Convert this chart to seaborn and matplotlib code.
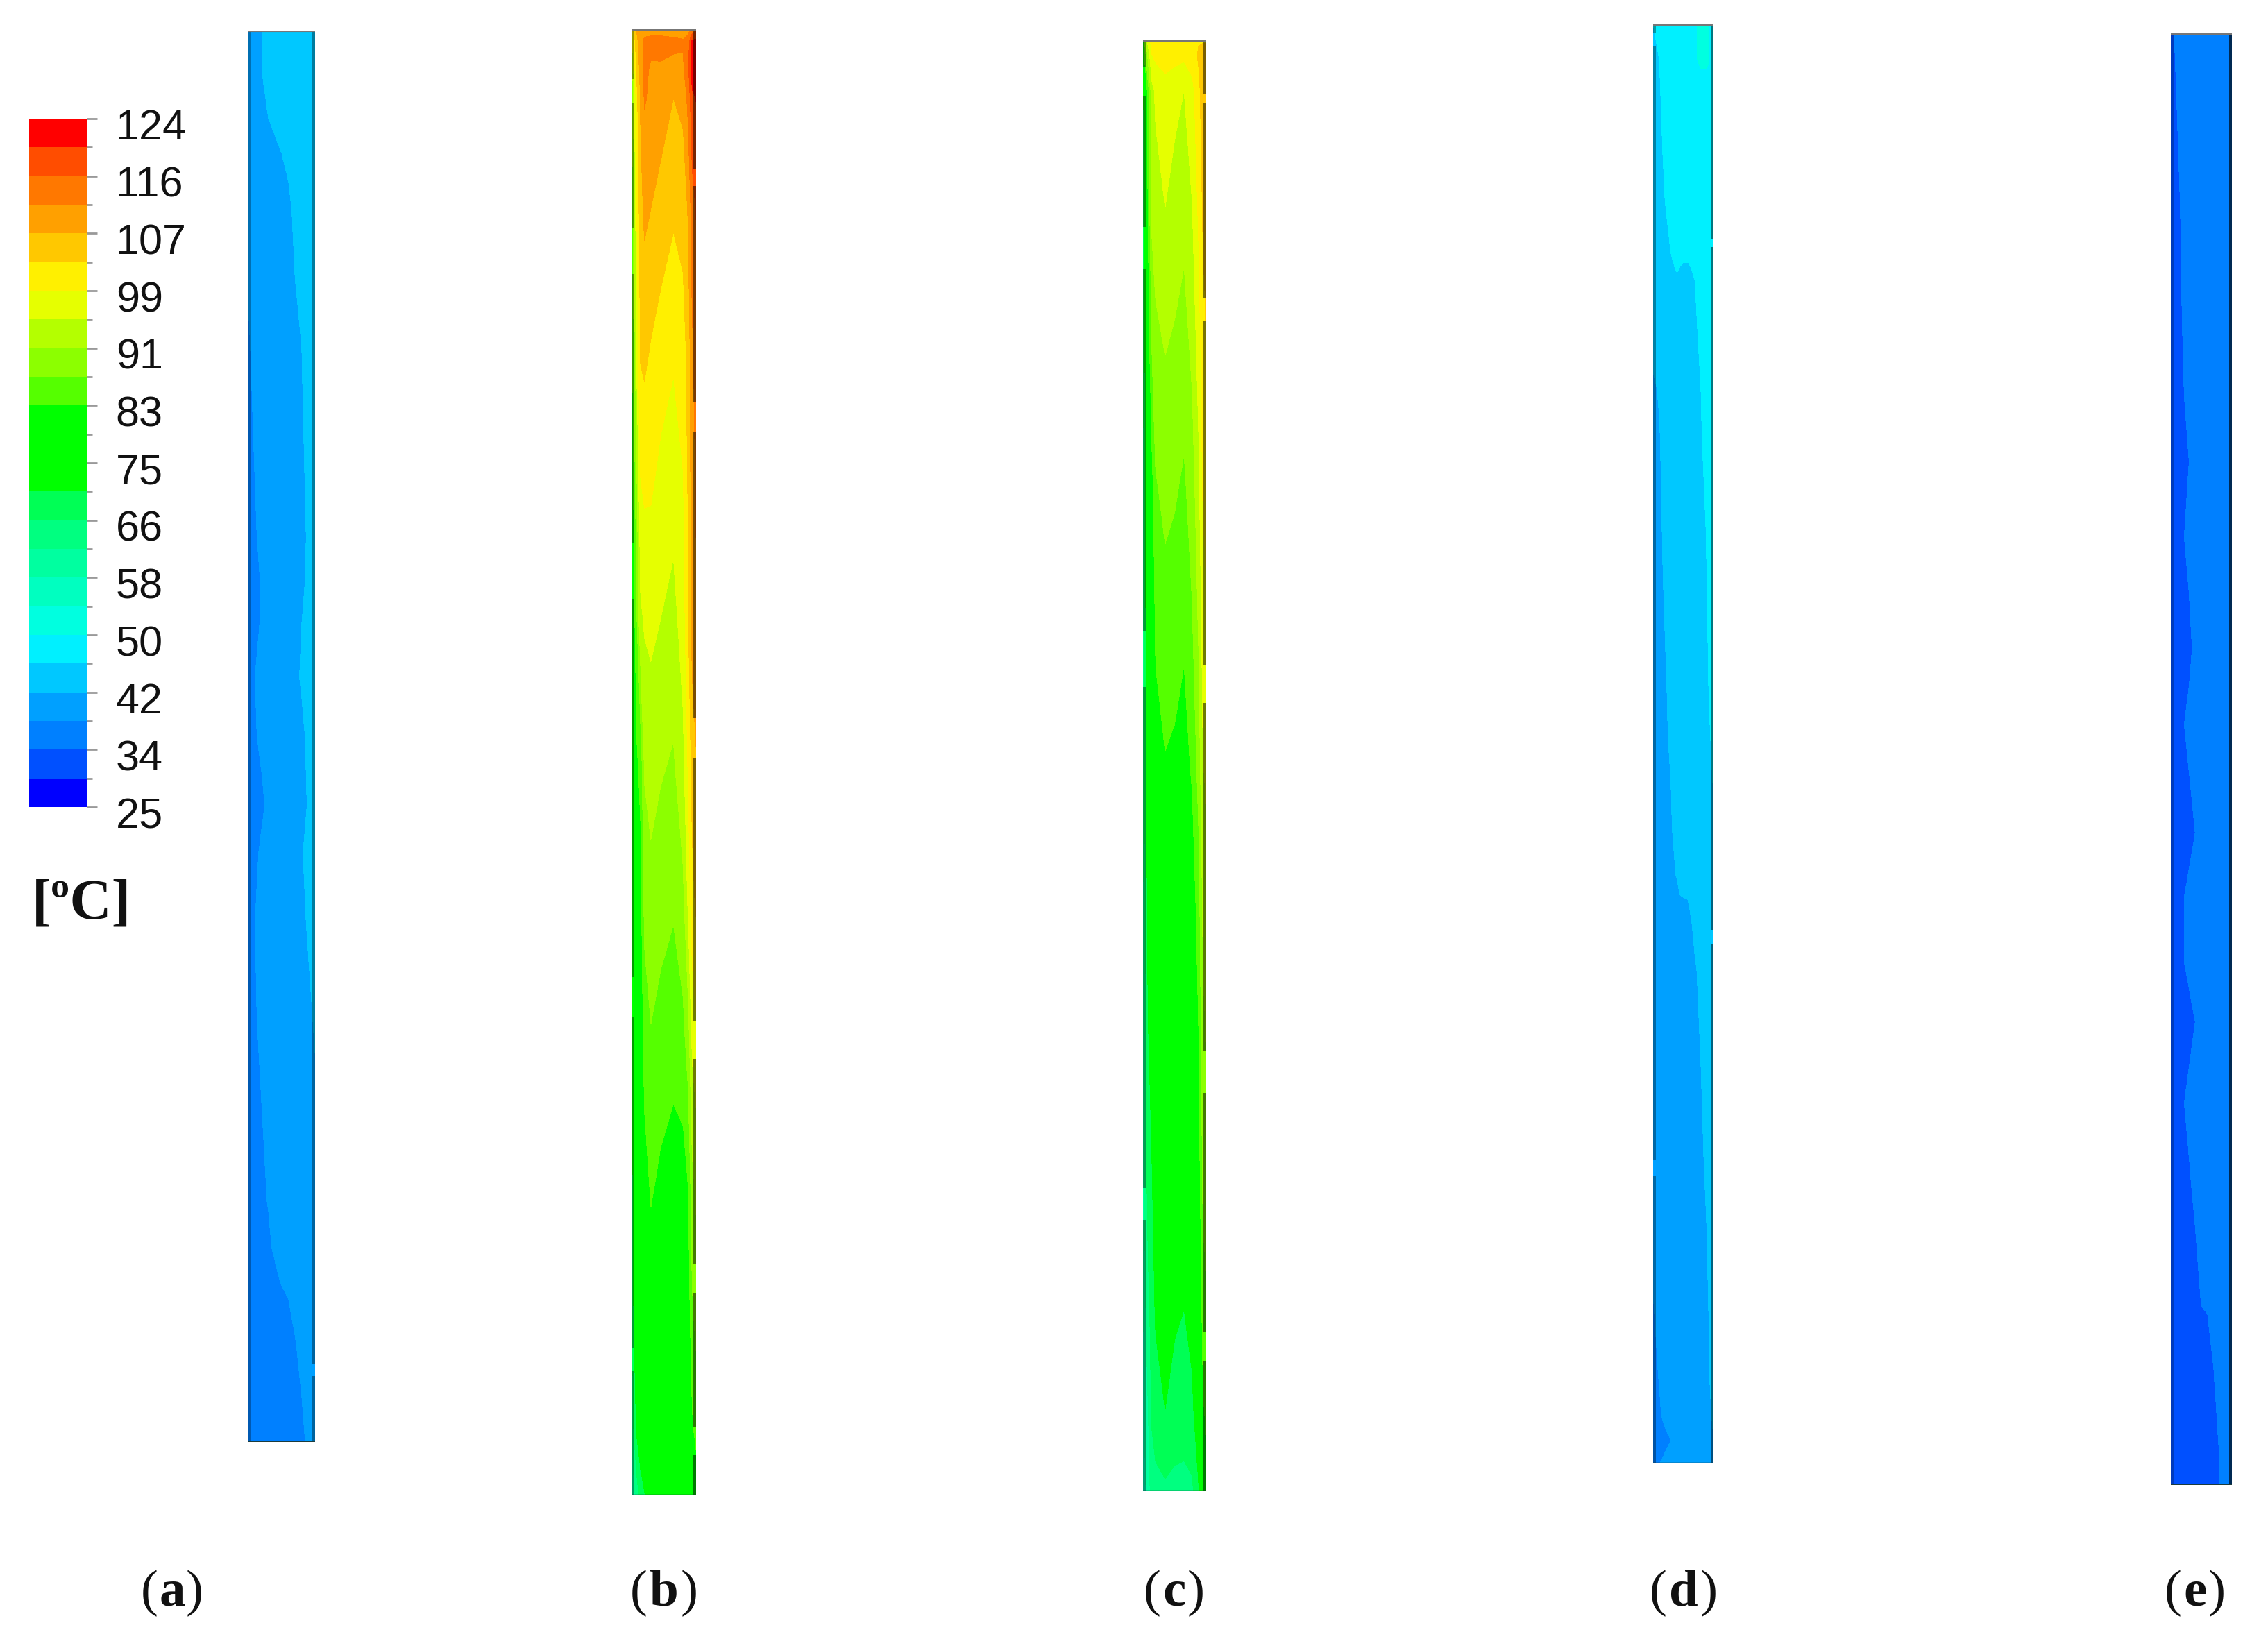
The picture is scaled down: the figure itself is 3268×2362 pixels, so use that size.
"""Temperature contours of five tubes, (a) to (e), with a stepped colour scale."""

import matplotlib
matplotlib.use("Agg")
import matplotlib.pyplot as plt
from matplotlib.colors import BoundaryNorm, ListedColormap
from matplotlib.transforms import ScaledTranslation
import numpy as np
import seaborn as sns

# Colour scale, bottom band first
LEVELS = [25, 29.125, 33.25, 37.375, 41.5, 45.625, 49.75, 53.875, 58, 62.125, 66.25, 70.375,
          74.5, 78.625, 82.75, 86.875, 91, 95.125, 99.25, 103.375, 107.5, 111.625, 115.75, 119.875, 124]
BAND_COLORS = ["#0000ff", "#0050ff", "#0080ff", "#00a0ff", "#00c8ff", "#00f0ff", "#00ffe0", "#00ffc0",
               "#00ffa0", "#00ff80", "#00ff55", "#00ff00", "#00ff00", "#00ff00", "#55ff00", "#8cff00",
               "#b4ff00", "#e6ff00", "#fff000", "#ffc800", "#ffa000", "#ff7800", "#ff4d00", "#ff0000"]
SCALE_LABELS = ["124", "116", "107", "99", "91", "83", "75", "66", "58", "50", "42", "34", "25"]

# Temperature tables: each row is one height (0 top, 1 bottom), each column one width position
COLS_UNIFORM = [0, .1, .2, .3, .4, .5, .6, .7, .8, .9, 1]
COLS_B = [0, .03, .08, .14, .2, .3, .45, .65, .8, .88, .94, 1]
COLS_C = [0, .03, .08, .14, .2, .35, .5, .65, .78, .88, .95, 1]

ROWS_A = [0, .028, .062, .087, .126, .224, .293, .359, .391, .421, .458, .5, .549, .583, .632, .701,
          .76, .829, .863, .882, .898, .932, .967, 1]
TEMP_A = [
    [39.5, 39.5, 41.5, 43.5, 43.5, 43.5, 43.5, 43.5, 43.5, 43.5, 43.5],
    [39.5, 39.5, 41.5, 43.5, 43.5, 43.5, 43.5, 43.5, 43.5, 43.5, 43.5],
    [39.5, 39.5, 39.5, 41.5, 43.5, 43.5, 43.5, 43.5, 43.5, 43.5, 43.5],
    [39.5, 39.5, 39.5, 39.5, 39.5, 41.5, 43.5, 43.5, 43.5, 43.5, 43.5],
    [39.5, 39.5, 39.5, 39.5, 39.5, 39.5, 39.5, 43.5, 43.5, 43.5, 43.5],
    [36.5, 39.5, 39.5, 39.5, 39.5, 39.5, 39.5, 39.5, 41.5, 43.5, 43.5],
    [35, 38, 39.5, 39.5, 39.5, 39.5, 39.5, 39.5, 40.5, 43.5, 43.5],
    [35, 36.5, 39.5, 39.5, 39.5, 39.5, 39.5, 39.5, 39.5, 42.5, 43.5],
    [35, 35, 38, 39.5, 39.5, 39.5, 39.5, 39.5, 39.5, 43.5, 43.5],
    [35, 35, 38.5, 39.5, 39.5, 39.5, 39.5, 39.5, 41.5, 43.5, 43.5],
    [35, 37.4, 39.5, 39.5, 39.5, 39.5, 39.5, 39.5, 42.5, 43.5, 43.5],
    [35, 36.5, 39.5, 39.5, 39.5, 39.5, 39.5, 39.5, 39.5, 43.5, 43.5],
    [35, 35, 35.5, 39.5, 39.5, 39.5, 39.5, 39.5, 39.5, 42, 43.5],
    [35, 35, 39.5, 39.5, 39.5, 39.5, 39.5, 39.5, 41, 43.5, 43.5],
    [35, 37.4, 39.5, 39.5, 39.5, 39.5, 39.5, 39.5, 39.5, 42.5, 43.5],
    [35, 36.5, 39.5, 39.5, 39.5, 39.5, 39.5, 39.5, 39.5, 39.5, 42.5],
    [35, 35, 37.4, 39.5, 39.5, 39.5, 39.5, 39.5, 39.5, 39.5, 40],
    [35, 35, 35, 38, 39.5, 39.5, 39.5, 39.5, 39.5, 39.5, 39.5],
    [35, 35, 35, 35, 39.5, 39.5, 39.5, 39.5, 39.5, 39.5, 39.5],
    [35, 35, 35, 35, 35, 39.5, 39.5, 39.5, 39.5, 39.5, 39.5],
    [35, 35, 35, 35, 35, 35, 37.4, 39.5, 39.5, 39.5, 39.5],
    [35, 35, 35, 35, 35, 35, 35, 36.8, 39.5, 39.5, 39.5],
    [35, 35, 35, 35, 35, 35, 35, 35, 37.4, 39.5, 39.5],
    [35, 35, 35, 35, 35, 35, 35, 35, 35, 39.5, 39.5],
]

ROWS_B = [0, .0085, .028, .047, .122, .217, .311, .406, .501, .595, .69, .785, .88, .955, 1]
TEMP_B = [
    [95, 103, 108, 110, 110, 110, 110, 110, 110, 110, 113, 115],
    [90, 100, 106, 110, 112.5, 113, 113, 112.5, 112, 114, 121, 121],
    [85, 95, 104, 109, 113, 110.9, 111, 110.5, 111, 115, 122, 122],
    [82, 92, 102, 108, 112, 110.8, 109.5, 107.5, 108.5, 113, 119, 120],
    [80, 88, 99, 106, 108.4, 107.5, 106, 104.1, 105, 108, 114, 116],
    [78, 86, 96, 104, 104.5, 103.1, 101.5, 99.9, 101.5, 105, 111, 113],
    [76, 83, 90, 99, 100, 99.8, 98, 96.8, 99, 104, 110, 112],
    [74, 80, 86, 94, 95.5, 96, 95, 93.6, 97, 103, 109, 111],
    [72, 78, 82, 84, 91.5, 92.7, 91.5, 90.5, 94, 100, 105, 107],
    [70, 76, 80, 81, 88, 89.6, 88.5, 87.4, 90, 96, 102, 104],
    [68, 74, 78, 79, 84.5, 86.5, 85.2, 84.2, 85.5, 89, 96, 98],
    [66, 72, 76, 77, 81, 83.4, 82, 81, 81, 83, 90, 92],
    [64, 70, 74, 76, 78, 80, 79, 78.5, 78.5, 80, 86, 88],
    [62, 66, 71, 74, 76, 78, 77, 76.5, 76.5, 77, 82, 84],
    [58, 60, 64, 68, 70, 72, 75, 75.5, 75.5, 76, 79, 80],
]

ROWS_C = [0, .011, .035, .116, .211, .307, .403, .498, .594, .69, .785, .874, .943, 1]
TEMP_C = [
    [75, 88, 97, 101, 101, 101, 101, 101, 102, 103, 103, 103],
    [72, 84, 92, 99, 100, 101, 100.5, 100, 101, 104, 105, 105],
    [68, 76, 85, 93.5, 96, 97.5, 96.3, 95.1, 98, 102, 106, 106],
    [66, 72, 83, 92, 93, 95.1, 93.5, 92.3, 95, 100, 104, 105],
    [65, 70, 80, 87, 90, 91.2, 90.4, 89.2, 92, 97, 102, 103],
    [64, 69, 78, 81, 86.5, 88, 87.4, 86.2, 89, 94, 100, 101],
    [63, 68, 76, 78, 83.5, 85.3, 84.7, 83.5, 86.5, 91.5, 97, 98],
    [62, 67, 74, 76, 81, 82.5, 82, 80.9, 83.5, 88.5, 95, 96],
    [60, 65, 72, 74, 78, 80, 79, 78.3, 80, 85, 92, 93],
    [59, 64, 70, 72, 75.5, 77, 76, 75.6, 77, 82.5, 90, 91],
    [58, 63, 68, 70, 73, 74.5, 73.5, 72.9, 74.5, 80, 88, 89],
    [57, 61, 65, 68, 71, 72.3, 71, 70.4, 72, 77, 85, 86],
    [55, 59, 62, 67, 68.5, 70.4, 69, 68.4, 69.5, 74, 82, 84],
    [54, 57, 60, 64, 65, 65.5, 65, 65, 65.5, 70, 78, 80],
]

ROWS_D = [0, .024, .041, .089, .123, .153, .169, .178, .219, .253, .287, .35, .383, .465, .494, .528,
          .559, .591, .605, .608, .624, .658, .721, .788, .837, .9, .934, .967, .984, 1]
TEMP_D = [
    [45.6, 48, 48, 48, 48, 48, 48, 49, 51, 51, 48],
    [43.5, 45.6, 48, 48, 48, 48, 48, 49, 51, 51, 48],
    [43.5, 45, 48, 48, 48, 48, 48, 48, 48, 48, 48],
    [43.5, 43.5, 47, 48, 48, 48, 48, 48, 48, 48, 48],
    [43.5, 43.5, 45.6, 48, 48, 48, 48, 48, 48, 48, 48],
    [43.5, 43.5, 44, 46, 48, 48, 48, 48, 48, 48, 48],
    [43.5, 43.5, 44, 45, 46, 45, 45, 47, 48, 48, 48],
    [43.5, 43.5, 43.5, 44, 45, 44, 44, 45.6, 48, 48, 48],
    [43.5, 43.5, 43.5, 43.5, 43.5, 43.5, 43.5, 44, 47, 48, 48],
    [40.5, 42, 43.5, 43.5, 43.5, 43.5, 43.5, 43.5, 45.6, 48, 48],
    [39.5, 41, 43.5, 43.5, 43.5, 43.5, 43.5, 43.5, 45, 48, 48],
    [39.5, 39.5, 43.5, 43.5, 43.5, 43.5, 43.5, 43.5, 43.5, 46, 48],
    [39.5, 39.5, 42.5, 43.5, 43.5, 43.5, 43.5, 43.5, 43.5, 45.6, 48],
    [39.5, 39.5, 40.5, 43.5, 43.5, 43.5, 43.5, 43.5, 43.5, 44.5, 48],
    [39.5, 39.5, 39.5, 43.5, 43.5, 43.5, 43.5, 43.5, 43.5, 43.5, 47],
    [39.5, 39.5, 39.5, 41.5, 43.5, 43.5, 43.5, 43.5, 43.5, 43.5, 45.6],
    [39.5, 39.5, 39.5, 41, 43.5, 43.5, 43.5, 43.5, 43.5, 43.5, 44.5],
    [39.5, 39.5, 39.5, 39.5, 42, 43.5, 43.5, 43.5, 43.5, 43.5, 43.5],
    [39.5, 39.5, 39.5, 39.5, 39.5, 43.5, 43.5, 43.5, 43.5, 43.5, 43.5],
    [39.5, 39.5, 39.5, 39.5, 39.5, 39.5, 42, 43.5, 43.5, 43.5, 43.5],
    [39.5, 39.5, 39.5, 39.5, 39.5, 39.5, 39.5, 43.5, 43.5, 43.5, 43.5],
    [39.5, 39.5, 39.5, 39.5, 39.5, 39.5, 39.5, 40.5, 43.5, 43.5, 43.5],
    [39.5, 39.5, 39.5, 39.5, 39.5, 39.5, 39.5, 39.5, 41.5, 43.5, 43.5],
    [39.5, 39.5, 39.5, 39.5, 39.5, 39.5, 39.5, 39.5, 39.5, 43.5, 43.5],
    [39.5, 39.5, 39.5, 39.5, 39.5, 39.5, 39.5, 39.5, 39.5, 41.5, 43.5],
    [36.5, 39.5, 39.5, 39.5, 39.5, 39.5, 39.5, 39.5, 39.5, 40.5, 43.5],
    [35, 38, 39.5, 39.5, 39.5, 39.5, 39.5, 39.5, 39.5, 40.5, 43],
    [35, 36, 39.5, 39.5, 39.5, 39.5, 39.5, 39.5, 39.5, 39.5, 42],
    [35, 35, 35, 37.4, 39.5, 39.5, 39.5, 39.5, 39.5, 39.5, 41],
    [35, 37, 39.5, 39.5, 39.5, 39.5, 39.5, 39.5, 39.5, 39.5, 40],
]

ROWS_E = [0, .05, .12, .185, .25, .295, .347, .424, .476, .551, .595, .64, .681, .737, .79, .854,
          .918, .983, 1]
TEMP_E = [
    [31, 35, 35, 35, 35, 35, 35, 35, 35, 35, 35],
    [31, 33.25, 35, 35, 35, 35, 35, 35, 35, 35, 35],
    [31, 31, 35, 35, 35, 35, 35, 35, 35, 35, 35],
    [31, 31, 33.8, 35, 35, 35, 35, 35, 35, 35, 35],
    [31, 31, 32.8, 35, 35, 35, 35, 35, 35, 35, 35],
    [31, 31, 31, 33.25, 35, 35, 35, 35, 35, 35, 35],
    [31, 31, 32.8, 35, 35, 35, 35, 35, 35, 35, 35],
    [31, 31, 31, 31.5, 35, 35, 35, 35, 35, 35, 35],
    [31, 31, 32.8, 35, 35, 35, 35, 35, 35, 35, 35],
    [31, 31, 31, 31, 33.25, 35, 35, 35, 35, 35, 35],
    [31, 31, 32.8, 35, 35, 35, 35, 35, 35, 35, 35],
    [31, 31, 32.8, 35, 35, 35, 35, 35, 35, 35, 35],
    [31, 31, 31, 31, 33.25, 35, 35, 35, 35, 35, 35],
    [31, 31, 32.8, 35, 35, 35, 35, 35, 35, 35, 35],
    [31, 31, 31, 32.5, 35, 35, 35, 35, 35, 35, 35],
    [31, 31, 31, 31, 31.5, 34.5, 35, 35, 35, 35, 35],
    [31, 31, 31, 31, 31, 31, 31, 33.25, 35, 35, 35],
    [31, 31, 31, 31, 31, 31, 31, 31, 33.25, 35, 35],
    [31, 31, 31, 31, 31, 31, 31, 31, 33.25, 35, 35],
]

PANEL_LABELS = ["a", "b", "c", "d", "e"]

WIDTH, HEIGHT = 3268, 2362


def add_axes_px(fig, left, top, right, bottom):
    return fig.add_axes([left / WIDTH, 1 - bottom / HEIGHT, (right - left) / WIDTH, (bottom - top) / HEIGHT])


def draw_wall(ax, x0, x1, alpha, gaps, top, bottom):
    # dark wall strip along the tube, broken where the field shows through
    edges = [top]
    for g0, g1 in gaps:
        edges += [g0, g1]
    edges.append(bottom)
    for start, stop in zip(edges[::2], edges[1::2]):
        y0 = (start - top) / (bottom - top)
        y1 = (stop - top) / (bottom - top)
        ax.fill_between([x0, x1], y0, y1, color="black", alpha=alpha, linewidth=0)


def draw_panel(fig, box, cols, rows, temps, left_wall, right_wall, left_gaps=(), right_gaps=()):
    left, top, right, bottom = box
    ax = add_axes_px(fig, left, top, right, bottom)
    ax.contourf(cols, rows, temps, levels=LEVELS, colors=BAND_COLORS)
    draw_wall(ax, 0, 0.045, left_wall, left_gaps, top, bottom)
    draw_wall(ax, 0.96, 1, right_wall, right_gaps, top, bottom)
    ax.set_xlim(0, 1)
    ax.set_ylim(1, 0)
    ax.axhline(0, color="#777777", linewidth=3)
    ax.axhline(1, color="#1c3c3c", linewidth=2.5)
    ax.axis("off")
    return ax


sns.set_theme(style="white")
plt.rcParams["font.family"] = ["Liberation Sans", "DejaVu Sans"]

fig = plt.figure(figsize=(WIDTH / 100, HEIGHT / 100), dpi=100, facecolor="white")

draw_panel(fig, (358, 44, 454, 2078), COLS_UNIFORM, ROWS_A, TEMP_A, 0.3, 0.38, right_gaps=[(1966, 1983)])
draw_panel(fig, (910, 42, 1003, 2155), COLS_B, ROWS_B, TEMP_B, 0.38, 0.52,
           left_gaps=[(114, 149), (328, 395), (783, 863), (1408, 1466), (1942, 1976)],
           right_gaps=[(243, 268), (580, 622), (1035, 1092), (1472, 1526), (1821, 1864), (2057, 2097)])
draw_panel(fig, (1647, 58, 1738, 2149), COLS_C, ROWS_C, TEMP_C, 0.38, 0.52,
           left_gaps=[(97, 138), (327, 388), (909, 990), (1712, 1758)],
           right_gaps=[(135, 148), (429, 462), (959, 1013), (1515, 1575), (1919, 1962)])
draw_panel(fig, (2382, 35, 2468, 2109), COLS_UNIFORM, ROWS_D, TEMP_D, 0.35, 0.5,
           left_gaps=[(47, 67), (1672, 1695)], right_gaps=[(344, 356), (1340, 1361)])
draw_panel(fig, (3128, 48, 3216, 2140), COLS_UNIFORM, ROWS_E, TEMP_E, 0.25, 0.68)

# Colour scale: one heatmap cell per band, hottest on top
band_mids = [(LEVELS[i] + LEVELS[i + 1]) / 2 for i in range(len(BAND_COLORS))][::-1]
scale_ax = add_axes_px(fig, 42, 171, 125, 1163)
sns.heatmap(
    np.array(band_mids).reshape(-1, 1),
    ax=scale_ax,
    cmap=ListedColormap(BAND_COLORS),
    norm=BoundaryNorm(LEVELS, len(BAND_COLORS)),
    cbar=False,
    xticklabels=False,
)
scale_ax.yaxis.tick_right()
scale_ax.set_yticks(range(0, len(LEVELS), 2))
scale_ax.set_yticklabels(SCALE_LABELS, rotation=0, fontsize=44, color="#111111")
scale_ax.set_yticks(range(1, len(LEVELS), 2), minor=True)
scale_ax.tick_params(axis="y", which="major", right=True, length=11, width=2, color="#999999", pad=19)
scale_ax.tick_params(axis="y", which="minor", right=True, length=6, width=2, color="#999999")
# the labels sit a little below their ticks
for label in scale_ax.get_yticklabels():
    label.set_transform(label.get_transform() + ScaledTranslation(0, -0.08, fig.dpi_scale_trans))

fig.text(118 / WIDTH, 1 - 1304 / HEIGHT, "[ºC]", family="Liberation Serif", fontsize=60,
         fontweight="bold", ha="center", va="center", color="#111111")

# Panel labels: bold letter between plain parentheses
label_centres = [248, 957, 1692, 2426, 3163]
label_half_widths = [20, 24, 19, 24, 19]
for name, x, half in zip(PANEL_LABELS, label_centres, label_half_widths):
    y = 1 - 2296 / HEIGHT
    fig.text((x - half) / WIDTH, y, "(", family="Liberation Serif", fontsize=54,
             ha="right", va="center", color="#111111")
    fig.text(x / WIDTH, y, name, family="Liberation Serif", fontsize=54,
             fontweight="bold", ha="center", va="center", color="#111111")
    fig.text((x + half) / WIDTH, y, ")", family="Liberation Serif", fontsize=54,
             ha="left", va="center", color="#111111")

fig.savefig("out.png", dpi=100, facecolor="white")
plt.close(fig)
